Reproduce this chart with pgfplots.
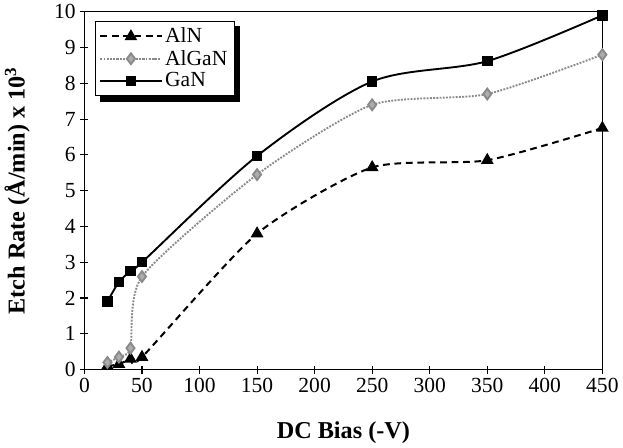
\documentclass[border=0pt]{standalone}
\usepackage{fontspec}
\setmainfont{Liberation Serif}
\usepackage{pgfplots}
\pgfplotsset{compat=1.18}
\usetikzlibrary{backgrounds}
\definecolor{agray}{HTML}{8a8a8a}

\begin{document}
\begin{tikzpicture}
\begin{axis}[
  scale only axis,
  width=385pt, height=266pt,
  xmin=0, xmax=450, ymin=0, ymax=10,
  xtick={0,50,...,450}, ytick={0,1,...,10},
  tick pos=left,
  tick align=center,
  major tick length=6pt,
  axis line style={line width=1pt},
  tick style={line width=0.8pt,black},
  /pgf/number format/assume math mode=true,
  ticklabel style={font=\fontsize{16}{18}\selectfont},
  xlabel={\textbf{DC Bias (-V)}},
  ylabel={\textbf{Etch Rate (Å/min) x 10\textsuperscript{3}}},
  label style={font=\fontsize{18}{20}\selectfont},
  xlabel style={at={(axis description cs:0.5,-0.175)},anchor=center},
  ylabel style={at={(axis description cs:-0.13,0.5)},anchor=center},
  legend style={name=leg,at={(0.02,0.975)},anchor=north west,font=\fontsize{16}{18}\selectfont,
    draw=black,line width=0.8pt,fill=white,
    inner xsep=3pt,inner ysep=3pt,row sep=0pt},
  legend cell align={left},
  legend image code/.code={\draw[mark repeat=2,mark phase=2] plot coordinates {(0cm,0cm) (0.8cm,0cm) (1.6cm,0cm)};},
  legend image post style={line width=1.4pt},
]
% AlN
\addplot[black,dash pattern=on 5pt off 3.5pt,line width=1.5pt,smooth,tension=0.4,mark=triangle*,mark size=4pt,mark options={solid}] coordinates {
  (20,0.1) (30,0.15) (40,0.3) (50,0.35) (150,3.8) (250,5.65) (350,5.85) (450,6.75)
};
\addlegendentry{AlN}
% AlGaN
\addplot[agray,densely dotted,line width=1.4pt,smooth,tension=0.4,mark=diamond*,mark size=4pt,mark options={solid,fill=agray!70,draw=agray}] coordinates {
  (20,0.2) (30,0.35) (40,0.6) (50,2.6) (150,5.45) (250,7.4) (350,7.7) (450,8.8)
};
\addlegendentry{AlGaN}
% GaN
\addplot[black,solid,line width=1.4pt,smooth,tension=0.5,mark=square*,mark size=3.2pt] coordinates {
  (20,1.9) (30,2.45) (40,2.75) (50,3.0) (150,5.97) (250,8.05) (350,8.62) (450,9.9)
};
\addlegendentry{GaN}
\end{axis}
% legend shadow
\begin{pgfonlayer}{background}
\fill[black] ([shift={(4pt,-4pt)}]leg.south west) rectangle ([shift={(4pt,-4pt)}]leg.north east);
\end{pgfonlayer}
\end{tikzpicture}
\end{document}
